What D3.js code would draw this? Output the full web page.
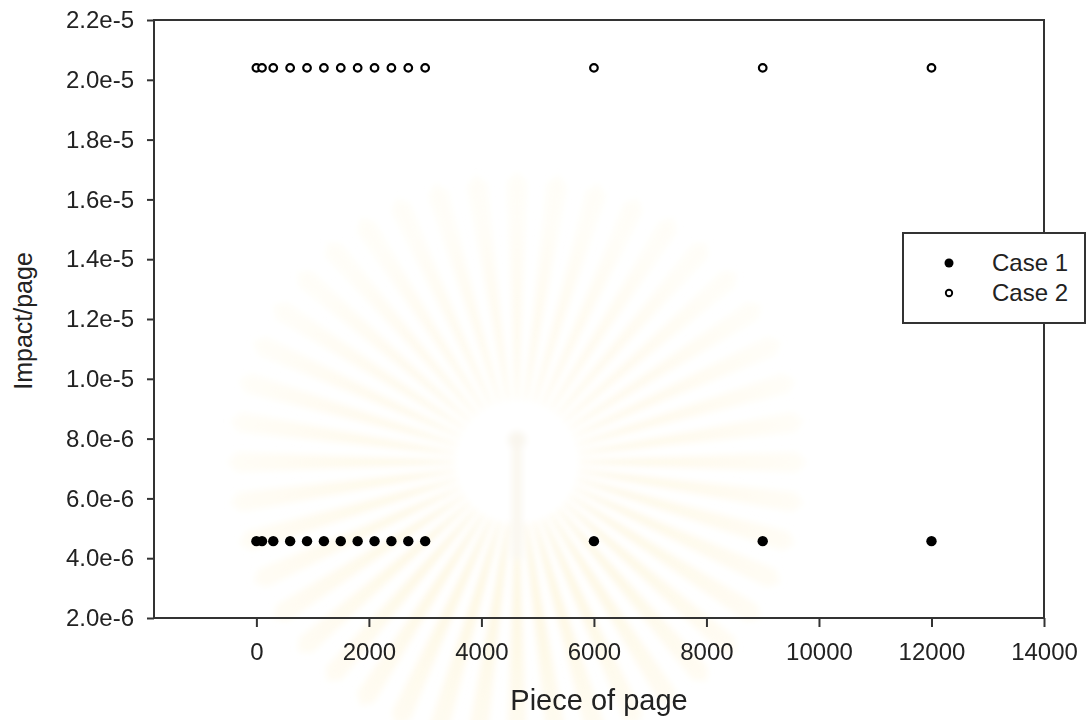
<!DOCTYPE html>
<html>
<head>
<meta charset="utf-8">
<script src="https://cdn.jsdelivr.net/npm/d3@7"></script>
<style>
  html, body { margin: 0; padding: 0; background: #fff; }
  svg { display: block; }
  text { font-family: "Liberation Sans", Arial, sans-serif; fill: #222; }
</style>
</head>
<body>
<svg id="chart" width="1088" height="720"></svg>
<script>
// Page counts and impact per page for the two cases
const pieces = [0, 100, 300, 600, 900, 1200, 1500, 1800, 2100, 2400, 2700, 3000, 6000, 9000, 12000];
const case1 = [4.57e-6, 4.57e-6, 4.57e-6, 4.57e-6, 4.57e-6, 4.57e-6, 4.57e-6, 4.57e-6, 4.57e-6, 4.57e-6, 4.57e-6, 4.57e-6, 4.57e-6, 4.57e-6, 4.57e-6];
const case2 = [2.04e-5, 2.04e-5, 2.04e-5, 2.04e-5, 2.04e-5, 2.04e-5, 2.04e-5, 2.04e-5, 2.04e-5, 2.04e-5, 2.04e-5, 2.04e-5, 2.04e-5, 2.04e-5, 2.04e-5];
const seriesNames = ["Case 1", "Case 2"];
const xTicks = [0, 2000, 4000, 6000, 8000, 10000, 12000, 14000];
const yTicks = [2e-6, 4e-6, 6e-6, 8e-6, 1e-5, 1.2e-5, 1.4e-5, 1.6e-5, 1.8e-5, 2e-5, 2.2e-5];
const xTitle = "Piece of page";
const yTitle = "Impact/page";

const svg = d3.select("#chart");
const plot = { left: 154, right: 1044, top: 20, bottom: 618 };

const x = d3.scaleLinear().domain([-1820, 14000]).range([plot.left, plot.right]);
const y = d3.scaleLinear().domain([2e-6, 2.2e-5]).range([plot.bottom, plot.top]);

// very faint emblem-style sunburst in the background
const defs = svg.append("defs");
const grad = defs.append("radialGradient").attr("id", "sun")
  .attr("gradientUnits", "userSpaceOnUse").attr("cx", 0).attr("cy", 60).attr("r", 300);
grad.append("stop").attr("offset", "0%").attr("stop-color", "#fbefc6");
grad.append("stop").attr("offset", "55%").attr("stop-color", "#fdf7e3");
grad.append("stop").attr("offset", "100%").attr("stop-color", "#fefcf4");
defs.append("filter").attr("id", "soft").append("feGaussianBlur").attr("stdDeviation", 3);

const wm = svg.append("g").attr("transform", "translate(517,462)").attr("filter", "url(#soft)");
const nRays = 44;
d3.range(nRays).forEach(i => {
  const a = (i / nRays) * 2 * Math.PI;
  const w = Math.PI / nRays * 0.5;
  const r0 = 62, r1 = 280;
  const pts = [
    [r0 * Math.cos(a - w * 0.4), r0 * Math.sin(a - w * 0.4)],
    [r1 * Math.cos(a - w), r1 * Math.sin(a - w)],
    [(r1 + 10) * Math.cos(a), (r1 + 10) * Math.sin(a)],
    [r1 * Math.cos(a + w), r1 * Math.sin(a + w)],
    [r0 * Math.cos(a + w * 0.4), r0 * Math.sin(a + w * 0.4)]
  ];
  wm.append("path").attr("d", d3.line().curve(d3.curveLinearClosed)(pts))
    .attr("fill", "url(#sun)").attr("opacity", 0.7);
});
wm.append("circle").attr("r", 55).attr("fill", "#fff");
wm.append("circle").attr("cy", -22).attr("r", 9).attr("fill", "#f9f6ee");
wm.append("rect").attr("x", -5).attr("y", -14).attr("width", 10).attr("height", 110).attr("fill", "#faf7ef");

// frame
svg.append("rect")
  .attr("x", plot.left).attr("y", plot.top)
  .attr("width", plot.right - plot.left).attr("height", plot.bottom - plot.top)
  .attr("fill", "none").attr("stroke", "#333").attr("stroke-width", 2);

// y axis
const yAxis = d3.axisLeft(y).tickValues(yTicks).tickSize(7).tickPadding(13)
  .tickFormat(d3.format(".1e"));
const gy = svg.append("g").attr("transform", `translate(${plot.left},0)`).call(yAxis);
gy.select(".domain").remove();
gy.selectAll(".tick line").attr("stroke", "#333").attr("stroke-width", 2);
gy.selectAll(".tick text").attr("font-size", 24).attr("fill", "#222")
  .attr("font-family", "Liberation Sans, Arial, sans-serif");

// x axis
const xAxis = d3.axisBottom(x).tickValues(xTicks).tickSize(9).tickPadding(16)
  .tickFormat(d3.format("d"));
const gx = svg.append("g").attr("transform", `translate(0,${plot.bottom})`).call(xAxis);
gx.select(".domain").remove();
gx.selectAll(".tick line").attr("stroke", "#333").attr("stroke-width", 2);
gx.selectAll(".tick text").attr("font-size", 24).attr("fill", "#222")
  .attr("font-family", "Liberation Sans, Arial, sans-serif");

// axis titles
svg.append("text").attr("x", 599).attr("y", 710).attr("text-anchor", "middle")
  .attr("font-size", 29).text(xTitle);
svg.append("text").attr("transform", "translate(32,321) rotate(-90)")
  .attr("text-anchor", "middle").attr("font-size", 25).text(yTitle);

// data points
const pts1 = pieces.map((p, i) => ({ x: p, y: case1[i] }));
const pts2 = pieces.map((p, i) => ({ x: p, y: case2[i] }));

svg.append("g").selectAll("circle").data(pts1).join("circle")
  .attr("cx", d => x(d.x)).attr("cy", d => y(d.y)).attr("r", 5.2)
  .attr("fill", "#000");

svg.append("g").selectAll("circle").data(pts2).join("circle")
  .attr("cx", d => x(d.x)).attr("cy", d => y(d.y)).attr("r", 3.8)
  .attr("fill", "#fff").attr("stroke", "#000").attr("stroke-width", 2.2);

// legend
const lg = svg.append("g");
lg.append("rect").attr("x", 903).attr("y", 233).attr("width", 182).attr("height", 90)
  .attr("fill", "#fff").attr("stroke", "#333").attr("stroke-width", 2);
lg.append("circle").attr("cx", 949).attr("cy", 263).attr("r", 4.5).attr("fill", "#000");
lg.append("circle").attr("cx", 949).attr("cy", 293).attr("r", 3.2)
  .attr("fill", "#fff").attr("stroke", "#000").attr("stroke-width", 1.9);
lg.selectAll("text.lab").data(seriesNames).join("text").attr("class", "lab")
  .attr("x", 992).attr("y", (d, i) => 271 + i * 30)
  .attr("font-size", 24).text(d => d);
</script>
</body>
</html>
